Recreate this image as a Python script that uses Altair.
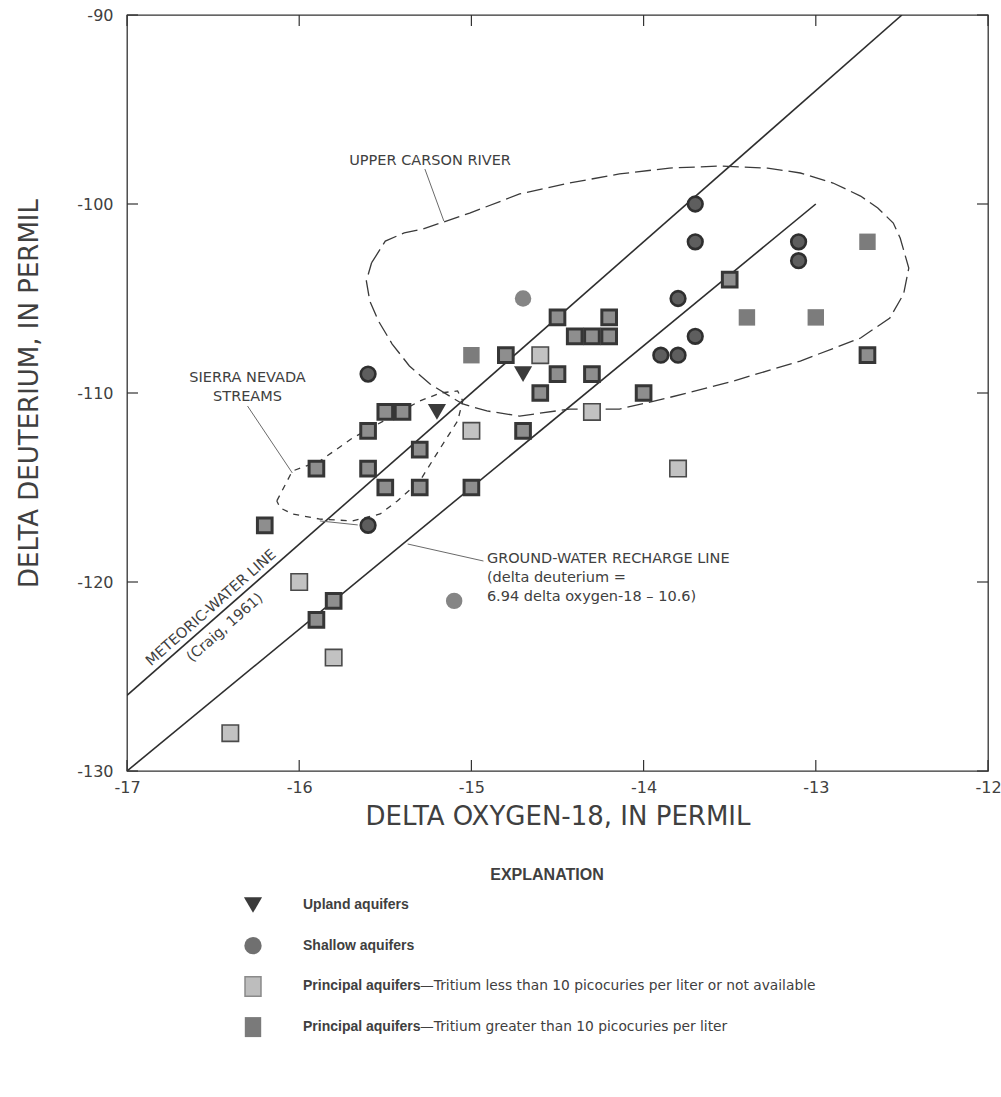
import altair as alt
import pandas as pd

# ---------------- axis tick values ----------------
x_ticks = [-17, -16, -15, -14, -13, -12]
y_ticks = [-130, -120, -110, -100, -90]

# ---------------- samples (delta O-18, delta D, permil) ----------------
upland_o18 = [-14.7, -15.2]
upland_dD = [-109, -111]

shallow_o18 = [-13.7, -13.7, -13.1, -13.1, -13.8, -13.7, -13.9, -13.8, -14.7, -15.6, -15.6, -15.1]
shallow_dD = [-100, -102, -102, -103, -105, -107, -108, -108, -105, -109, -117, -121]
shallow_rim = [1, 1, 1, 1, 1, 1, 1, 1, 0, 1, 1, 0]

# principal aquifers, tritium < 10 pCi/L or not available
low_o18 = [-16.4, -16.0, -15.8, -13.8, -14.6, -14.3, -15.0]
low_dD = [-128, -120, -124, -114, -108, -111, -112]

# principal aquifers, tritium > 10 pCi/L
high_o18 = [-15.0, -13.4, -13.0, -12.7,
            -16.2, -15.9, -15.8, -15.9, -15.6, -15.6, -15.5, -15.4, -15.5,
            -15.3, -15.3, -15.0, -14.8, -14.5, -14.4, -14.3, -14.2, -14.2,
            -14.5, -14.3, -14.6, -14.7, -14.0, -13.5, -12.7]
high_dD = [-108, -106, -106, -102,
           -117, -122, -121, -114, -112, -114, -111, -111, -115,
           -113, -115, -115, -108, -106, -107, -107, -106, -107,
           -109, -109, -110, -112, -110, -104, -108]
high_rim = [0, 0, 0, 0,
            1, 1, 1, 1, 1, 1, 1, 1, 1,
            1, 1, 1, 1, 1, 1, 1, 1, 1,
            1, 1, 1, 1, 1, 1, 1]

# ---------------- reference lines ----------------
mwl_o18 = [-17.0, -12.5]      # meteoric-water line (Craig, 1961)
mwl_dD = [-126.0, -90.0]
gwr_o18 = [-17.0, -13.0]      # ground-water recharge line
gwr_dD = [-130.0, -100.0]

# ---------------- outlined fields ----------------
carson_o18 = [-15.58, -15.50, -15.39, -15.28, -15.01, -14.72, -14.43, -14.14, -13.85, -13.56,
              -13.28, -13.09, -12.90, -12.74, -12.64, -12.55, -12.51, -12.46, -12.49, -12.57,
              -12.74, -13.09, -13.48, -13.86, -14.14, -14.43, -14.72, -14.91, -15.05, -15.11,
              -15.24, -15.36, -15.46, -15.54, -15.59, -15.61, -15.58]
carson_dD = [-103.12, -101.96, -101.53, -101.32, -100.48, -99.47, -98.89, -98.41, -98.10, -97.99,
             -98.10, -98.36, -98.89, -99.58, -100.21, -101.01, -101.80, -103.39, -104.76, -106.03,
             -107.09, -108.31, -109.37, -110.26, -110.85, -110.85, -111.22, -110.95, -110.58, -110.26,
             -109.52, -108.57, -107.41, -106.19, -105.13, -104.07, -103.12]

sierra_o18 = [-16.13, -16.04, -15.88, -15.69, -15.49, -15.30, -15.18, -15.08, -15.05, -15.08,
              -15.18, -15.30, -15.43, -15.53, -15.69, -15.88, -16.04, -16.11, -16.13]
sierra_dD = [-115.71, -114.13, -113.60, -112.38, -111.38, -110.42, -110.00, -109.89, -110.42, -111.48,
             -112.91, -114.66, -115.71, -116.40, -116.77, -116.67, -116.40, -116.08, -115.71]

# ---------------- leader lines ----------------
leader_id = ["carson", "carson", "sierra", "sierra", "recharge", "recharge", "spring", "spring"]
leader_o18 = [-15.27, -15.16, -16.30, -16.04, -15.37, -14.93, -15.88, -15.66]
leader_dD = [-98.15, -100.90, -110.69, -114.23, -117.99, -118.89, -116.77, -116.98]

# ---------------- explanation ----------------
legend_bold = ["Upland aquifers", "Shallow aquifers", "Principal aquifers", "Principal aquifers"]
legend_rest = ["", "",
               "\u2014Tritium less than 10 picocuries per liter or not available",
               "\u2014Tritium greater than 10 picocuries per liter"]

# ---------------- layout / style ----------------
W, H = 861, 756
TXT = "#404040"
SANS = "DejaVu Sans"
xs = alt.Scale(domain=[-17, -12], nice=False, zero=False)
ys = alt.Scale(domain=[-130, -90], nice=False, zero=False)

x_axis = alt.Axis(values=x_ticks, ticks=False, domain=False, grid=False,
                  labelExpr="'' + datum.value", labelFlush=False, labelOverlap=False,
                  labelFont=SANS, labelFontSize=16, labelColor=TXT, labelPadding=8,
                  title="DELTA OXYGEN-18, IN PERMIL", titleFont=SANS, titleFontSize=26,
                  titleFontWeight="normal", titleColor=TXT, titlePadding=8)
y_axis = alt.Axis(values=y_ticks, ticks=False, domain=False, grid=False,
                  labelExpr="'' + datum.value", labelOverlap=False,
                  labelFont=SANS, labelFontSize=16, labelColor=TXT, labelPadding=14,
                  title="DELTA DEUTERIUM, IN PERMIL", titleFont=SANS, titleFontSize=26,
                  titleFontWeight="normal", titleColor=TXT, titlePadding=34)

X = alt.X("o18:Q", scale=xs, axis=x_axis)
Y = alt.Y("dD:Q", scale=ys, axis=y_axis)

# ---------------- tables ----------------
pts = pd.concat([
    pd.DataFrame({"o18": upland_o18, "dD": upland_dD, "group": "upland", "rim": 0}),
    pd.DataFrame({"o18": shallow_o18, "dD": shallow_dD, "group": "shallow", "rim": shallow_rim}),
    pd.DataFrame({"o18": low_o18, "dD": low_dD, "group": "low", "rim": 0}),
    pd.DataFrame({"o18": high_o18, "dD": high_dD, "group": "high", "rim": high_rim}),
], ignore_index=True)

ref_lines = pd.concat([
    pd.DataFrame({"o18": mwl_o18, "dD": mwl_dD, "line": "meteoric", "i": range(len(mwl_o18))}),
    pd.DataFrame({"o18": gwr_o18, "dD": gwr_dD, "line": "recharge", "i": range(len(gwr_o18))}),
], ignore_index=True)

carson = pd.DataFrame({"o18": carson_o18, "dD": carson_dD, "i": range(len(carson_o18))})
sierra = pd.DataFrame({"o18": sierra_o18, "dD": sierra_dD, "i": range(len(sierra_o18))})
leaders = pd.DataFrame({"o18": leader_o18, "dD": leader_dD, "seg": leader_id,
                        "i": range(len(leader_id))})

xt = pd.DataFrame({"o18": x_ticks})
yt = pd.DataFrame({"dD": y_ticks})

# ---------------- frame ticks (pointing inward) ----------------
tick_style = dict(color="#333333", strokeWidth=1.2)
ticks_bottom = alt.Chart(xt).mark_rule(**tick_style).encode(x=X, y=alt.value(H), y2=alt.value(H - 11))
ticks_top = alt.Chart(xt).mark_rule(**tick_style).encode(x=X, y=alt.value(0), y2=alt.value(11))
ticks_left = alt.Chart(yt).mark_rule(**tick_style).encode(y=Y, x=alt.value(0), x2=alt.value(11))
ticks_right = alt.Chart(yt).mark_rule(**tick_style).encode(y=Y, x=alt.value(W - 11), x2=alt.value(W))

# ---------------- lines and outlines ----------------
lines = alt.Chart(ref_lines).mark_line(color="#2e2e2e", strokeWidth=1.6, clip=True).encode(
    x=X, y=Y, detail="line:N", order="i:Q")
carson_line = alt.Chart(carson).mark_line(color="#3a3a3a", strokeWidth=1.3,
                                          strokeDash=[16, 6]).encode(x=X, y=Y, order="i:Q")
sierra_line = alt.Chart(sierra).mark_line(color="#3a3a3a", strokeWidth=1.3,
                                          strokeDash=[6, 6]).encode(x=X, y=Y, order="i:Q")
leader_lines = alt.Chart(leaders).mark_line(color="#6a6a6a", strokeWidth=1).encode(
    x=X, y=Y, detail="seg:N", order="i:Q")

# ---------------- samples ----------------
base = alt.Chart(pts)
is_rim = "datum.rim == 1"

upland = base.transform_filter("datum.group == 'upland'").mark_point(
    shape="triangle-down", filled=True, opacity=1, fill="#3a3a3a", size=330).encode(x=X, y=Y)

shallow = base.transform_filter("datum.group == 'shallow'").mark_point(
    shape="circle", filled=True, opacity=1, stroke="#2f2f2f").encode(
    x=X, y=Y,
    fill=alt.condition(is_rim, alt.value("#5e5e5e"), alt.value("#858585")),
    strokeWidth=alt.condition(is_rim, alt.value(2.6), alt.value(0)),
    size=alt.condition(is_rim, alt.value(215), alt.value(270)))

low = base.transform_filter("datum.group == 'low'").mark_point(
    shape="square", filled=True, opacity=1, fill="#c2c2c2", stroke="#4a4a4a",
    strokeWidth=1.6, size=270).encode(x=X, y=Y)

high = base.transform_filter("datum.group == 'high'").mark_point(
    shape="square", filled=True, opacity=1, stroke="#363636").encode(
    x=X, y=Y,
    fill=alt.condition(is_rim, alt.value("#8e8e8e"), alt.value("#7c7c7c")),
    strokeWidth=alt.condition(is_rim, alt.value(3), alt.value(0)),
    size=alt.condition(is_rim, alt.value(215), alt.value(270)))

# ---------------- annotations ----------------
note_style = dict(font=SANS, fontSize=14.5, color=TXT)
ann_center = pd.DataFrame({
    "o18": [-15.24, -16.30, -16.30],
    "dD": [-97.7, -109.2, -110.2],
    "label": ["UPPER CARSON RIVER", "SIERRA NEVADA", "STREAMS"],
})
ann_left = pd.DataFrame({
    "o18": [-14.91, -14.91, -14.91],
    "dD": [-118.8, -119.8, -120.8],
    "label": ["GROUND-WATER RECHARGE LINE", "(delta deuterium =", "6.94 delta oxygen-18 \u2013 10.6)"],
})
ann_rot = pd.DataFrame({
    "o18": [-16.51, -16.43],
    "dD": [-121.38, -122.43],
    "label": ["METEORIC-WATER LINE", "(Craig, 1961)"],
})
notes_c = alt.Chart(ann_center).mark_text(align="center", baseline="middle", **note_style).encode(
    x=X, y=Y, text="label:N")
notes_l = alt.Chart(ann_left).mark_text(align="left", baseline="middle", **note_style).encode(
    x=X, y=Y, text="label:N")
notes_r = alt.Chart(ann_rot).mark_text(align="center", baseline="middle", angle=318.7,
                                       **note_style).encode(x=X, y=Y, text="label:N")

# ---------------- explanation block ----------------
legend_marks = [
    dict(shape="triangle-down", fill="#3a3a3a", stroke="#3a3a3a", strokeWidth=0, size=330),
    dict(shape="circle", fill="#707070", stroke="#707070", strokeWidth=0, size=300),
    dict(shape="M-0.82,-1L0.82,-1L0.82,1L-0.82,1Z", fill="#bdbdbd", stroke="#8a8a8a",
         strokeWidth=1.5, size=380),
    dict(shape="M-0.82,-1L0.82,-1L0.82,1L-0.82,1Z", fill="#7a7a7a", stroke="#7a7a7a",
         strokeWidth=0, size=400),
]
row_y0, row_dy = 890, 40.7
sym_x, text_x, rest_x = 126, 176, 293

legend_layers = [
    alt.Chart(pd.DataFrame({"label": ["EXPLANATION"]})).mark_text(
        font="Liberation Sans", fontSize=16, fontWeight="bold", color=TXT,
        align="center", baseline="middle").encode(
        x=alt.value(420), y=alt.value(860), text="label:N")
]
for k, style in enumerate(legend_marks):
    ypos = row_y0 + k * row_dy
    legend_layers.append(
        alt.Chart(pd.DataFrame({"k": [k]})).mark_point(filled=True, opacity=1, **style).encode(
            x=alt.value(sym_x), y=alt.value(ypos)))
    legend_layers.append(
        alt.Chart(pd.DataFrame({"label": [legend_bold[k]]})).mark_text(
            font="Liberation Sans", fontSize=14, fontWeight="bold", color=TXT,
            align="left", baseline="middle").encode(
            x=alt.value(text_x), y=alt.value(ypos), text="label:N"))
    if legend_rest[k]:
        legend_layers.append(
            alt.Chart(pd.DataFrame({"label": [legend_rest[k]]})).mark_text(
                font=SANS, fontSize=13.8, color=TXT, align="left", baseline="middle").encode(
                x=alt.value(rest_x), y=alt.value(ypos), text="label:N"))

chart = alt.layer(
    lines, carson_line, sierra_line, leader_lines,
    ticks_bottom, ticks_top, ticks_left, ticks_right,
    low, high, shallow, upland,
    notes_c, notes_l, notes_r,
    *legend_layers,
).properties(
    width=W, height=H,
    autosize=alt.AutoSizeParams(type="none"),
    padding={"left": 127, "top": 15, "right": 13, "bottom": 326},
    background="white",
).configure_view(stroke="#333333", strokeWidth=1.3)

chart.save("out.html", embed_options={"renderer": "svg", "actions": False})
